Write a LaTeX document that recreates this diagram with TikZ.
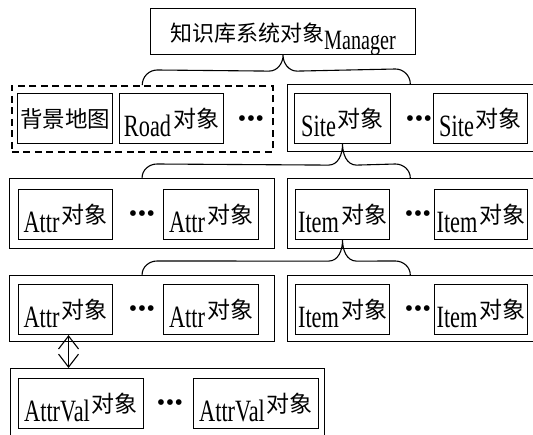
\documentclass[tikz,border=0pt]{standalone}
\usepackage{fontspec}
\setmainfont{Liberation Serif}[FakeStretch=0.72]
\newfontfamily\cjkfam{Noto Sans CJK SC}
\newfontfamily\plainfam{Liberation Serif}
\usetikzlibrary{arrows.meta,calc}
\newcommand\latsz{\fontsize{31}{31}\selectfont}
\newcommand\cjsz{\cjkfam\fontsize{23}{23}\selectfont}
\newcommand\ob[1]{{\latsz #1}\hspace{2pt}\raisebox{9pt}{\cjsz 对象}}
\newcommand\tdots{\plainfam\fontsize{24}{24}\selectfont •\hspace{0.5pt}•\hspace{0.5pt}•}
\begin{document}
\begin{tikzpicture}[x=1pt,y=-1pt,
  ibox/.style={draw, line width=1.1pt, inner xsep=0pt, inner ysep=0pt, anchor=north west,
    minimum height=50pt, text height=43pt, text depth=7pt},
  gbox/.style={draw, line width=1.1pt, anchor=north west, inner sep=0pt},
  dbox/.style={gbox, dash pattern=on 7pt off 4.5pt, line width=1.5pt},
  dotnode/.style={inner sep=0pt, anchor=center},
  conn/.style={draw, line width=1.1pt},
  dbl/.style={draw, line width=1.1pt, {Straight Barb[length=13pt,width=20pt]}-{Straight Barb[length=13pt,width=20pt]}}]
\useasboundingbox (0,0) rectangle (533,434);
\clip (0,0) rectangle (533,434);
\fill[white] (0,0) rectangle (533,434);
% top
\node[ibox, minimum width=265pt, minimum height=46pt, text height=41pt, text depth=5pt] (top) at (150,8)
  {\raisebox{8.5pt}{\cjkfam\fontsize{22}{22}\selectfont 知识库系统对象}{\fontsize{28}{28}\selectfont Manager}};
% row 1
\node[dbox, minimum width=261pt, minimum height=66pt] (g1) at (11,85) {};
\node[gbox, minimum width=245.5pt, minimum height=67pt] (g2) at (287,84) {};
\node[ibox, minimum width=95pt] (bg) at (17,93) {\raisebox{9pt}{\cjkfam\fontsize{22.5}{22.5}\selectfont 背景地图}};
\node[ibox, minimum width=104pt] (road) at (119,93) {\ob{Road}};
\node[dotnode] (d1) at (251,121) {\tdots};
\node[ibox, minimum width=96pt] (site1) at (294,93) {\ob{Site}};
\node[dotnode] (d2) at (419,121) {\tdots};
\node[ibox, minimum width=94pt] (site2) at (433,93) {\ob{Site}};
% row 2
\node[gbox, minimum width=265pt, minimum height=70pt] (g3) at (9,178) {};
\node[gbox, minimum width=245.5pt, minimum height=70pt] (g4) at (287,178) {};
\node[ibox, minimum width=94pt] (attr1) at (18,189) {\ob{Attr}};
\node[dotnode] (d3) at (142,216) {\tdots};
\node[ibox, minimum width=95pt] (attr2) at (163,189) {\ob{Attr}};
\node[ibox, minimum width=94pt] (item1) at (295,189) {\ob{Item}};
\node[dotnode] (d4) at (418,216) {\tdots};
\node[ibox, minimum width=93pt] (item2) at (434,189) {\ob{Item}};
% row 3
\node[gbox, minimum width=265pt, minimum height=66pt] (g5) at (9,275) {};
\node[gbox, minimum width=245.5pt, minimum height=66pt] (g6) at (287,275) {};
\node[ibox, minimum width=94pt] (attr3) at (18,284) {\ob{Attr}};
\node[dotnode] (d5) at (142,311) {\tdots};
\node[ibox, minimum width=95pt] (attr4) at (163,284) {\ob{Attr}};
\node[ibox, minimum width=94pt] (item3) at (295,284) {\ob{Item}};
\node[dotnode] (d6) at (418,311) {\tdots};
\node[ibox, minimum width=93pt] (item4) at (434,284) {\ob{Item}};
% row 4
\node[gbox, minimum width=314pt, minimum height=80pt] (g7) at (10,368) {};
\node[ibox, minimum width=125pt] (av1) at (18,378) {\ob{AttrVal}};
\node[dotnode] (d7) at (170,405) {\tdots};
\node[ibox, minimum width=125pt] (av2) at (193,378) {\ob{AttrVal}};
% braces
\draw[conn] (g1.north) to[out=90,in=180] ($(g1.north)+(15,-15)$) -- ($(top.south)+(-14,16)$)
  to[out=0,in=-90] (top.south) to[out=-90,in=180] ($(top.south)+(14,16)$)
  -- ($(g2.north)+(-15,-15)$) to[out=0,in=90] (g2.north);
\draw[conn] (g3.north) to[out=90,in=180] ($(g3.north)+(15,-14)$) -- ($(site1.south)+(-14,21)$)
  to[out=0,in=-90] (site1.south) to[out=-90,in=180] ($(site1.south)+(14,21)$)
  -- ($(g4.north)+(-15,-14)$) to[out=0,in=90] (g4.north);
\draw[conn] (g5.north) to[out=90,in=180] ($(g5.north)+(15,-14)$) -- ($(item1.south)+(-14,21)$)
  to[out=0,in=-90] (item1.south) to[out=-90,in=180] ($(item1.south)+(14,21)$)
  -- ($(g6.north)+(-15,-14)$) to[out=0,in=90] (g6.north);
% double arrow
\draw[dbl] ([xshift=3pt]attr3.south) -- ([xshift=3pt]attr3.south |- g7.north);
\end{tikzpicture}
\end{document}
